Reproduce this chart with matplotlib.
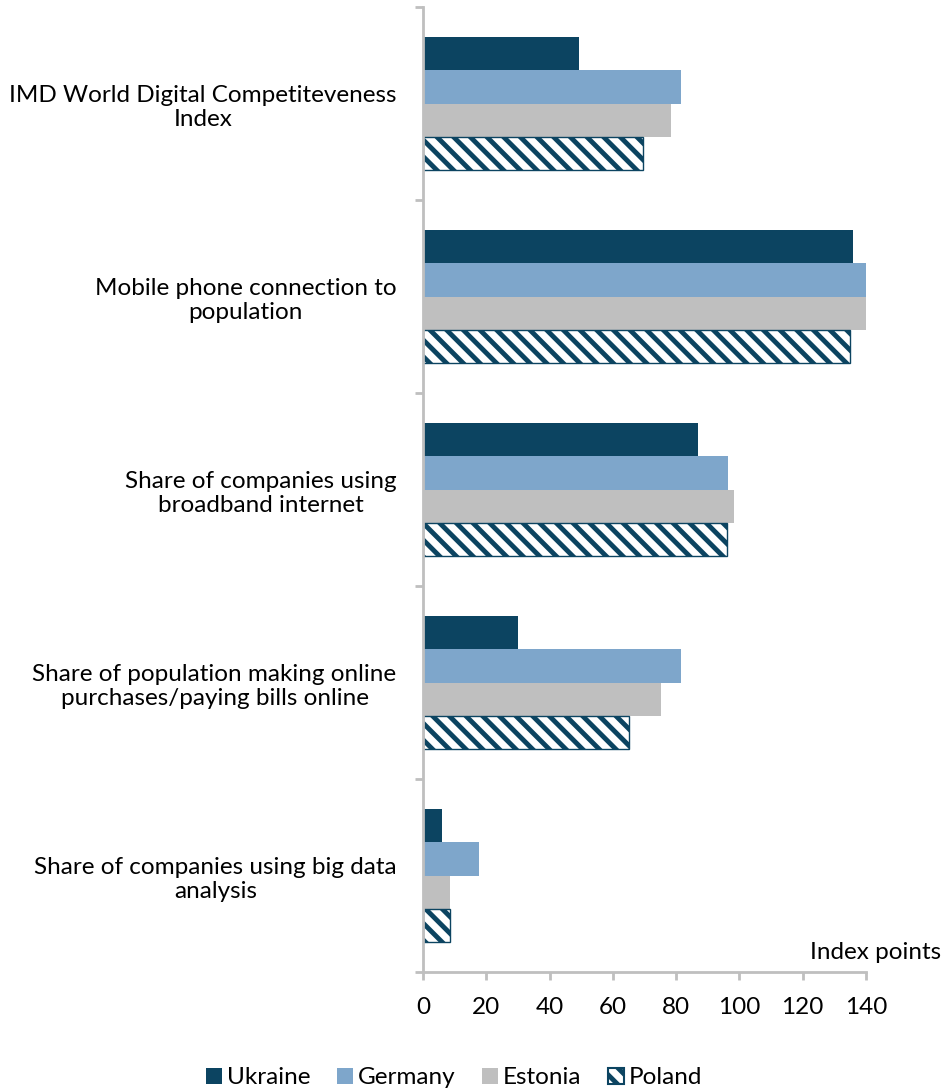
import numpy as np
import matplotlib.pyplot as plt
from matplotlib.patches import Patch

plt.rcParams['font.family'] = ['Lato', 'DejaVu Sans']
plt.rcParams['hatch.linewidth'] = 3.5

# Data
categories = [
    'IMD World Digital Competiteveness\nIndex',
    'Mobile phone connection to\npopulation',
    'Share of companies using\nbroadband internet',
    'Share of population making online\npurchases/paying bills online',
    'Share of companies using big data\nanalysis',
]
countries = ['Ukraine', 'Germany', 'Estonia', 'Poland']
ukraine = [49.3, 135.8, 86.8, 29.9, 6.1]
germany = [81.6, 140.0, 96.4, 81.6, 17.6]
estonia = [78.5, 140.0, 98.4, 75.2, 8.6]
poland = [69.6, 135.0, 96.0, 65.0, 8.6]
xticks = [0, 20, 40, 60, 80, 100, 120, 140]

dark = '#0C4461'
colors = [dark, '#7EA6CB', '#BFBFBF', 'white']
fs = 17.5

fig = plt.figure(figsize=(9.42, 10.91), dpi=100)
ax = fig.add_axes([0.449, 0.109, 0.4703, 0.8845])

y = np.arange(len(categories))
h = 0.1725
series = [ukraine, germany, estonia, poland]
for i, vals in enumerate(series):
    off = (i - 1.5) * h
    if i == 3:
        ax.barh(y + off, vals, height=h, color='white', edgecolor=dark,
                hatch='\\\\', linewidth=1.0)
    else:
        ax.barh(y + off, vals, height=h, color=colors[i], linewidth=0)

ax.set_ylim(len(categories) - 0.5, -0.5)
ax.set_xlim(0, 140)

ax.set_yticks(y)
ax.set_yticklabels(categories, fontsize=fs, multialignment='center')
ax.tick_params(axis='y', length=0, pad=19)
ax.set_yticks(np.arange(-0.5, len(categories)), minor=True)
ax.tick_params(axis='y', which='minor', length=6, width=2, color='#BFBFBF')

ax.set_xticks(xticks)
ax.set_xticklabels([str(v) for v in xticks], fontsize=fs)
ax.tick_params(axis='x', length=6, width=2, color='#BFBFBF', pad=12)

for s in ['top', 'right']:
    ax.spines[s].set_visible(False)
for s in ['left', 'bottom']:
    ax.spines[s].set_color('#BFBFBF')
    ax.spines[s].set_linewidth(2)

fig.text(0.9995, 0.127, 'Index points', fontsize=fs, ha='right', va='center')

handles = [Patch(facecolor=colors[0], edgecolor='none'),
           Patch(facecolor=colors[1], edgecolor='none'),
           Patch(facecolor=colors[2], edgecolor='none'),
           Patch(facecolor='white', edgecolor=dark, hatch='\\\\', linewidth=1.5)]
fig.legend(handles, countries, loc='center', bbox_to_anchor=(0.482, 0.012),
           ncol=4, frameon=False, fontsize=fs, handlelength=0.65,
           handleheight=0.65, handletextpad=0.2, columnspacing=1.1)

fig.savefig('out.png', dpi=100)
